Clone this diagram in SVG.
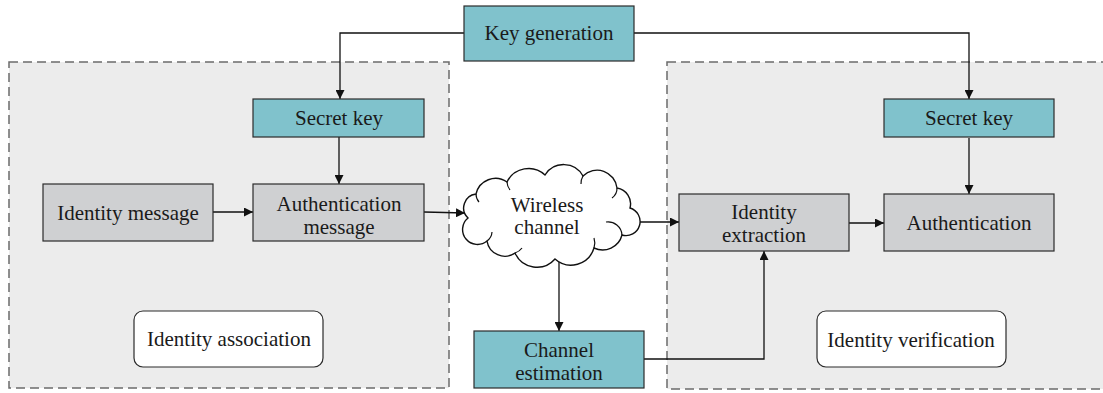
<svg xmlns="http://www.w3.org/2000/svg" width="1103" height="393" viewBox="0 0 1103 393">
  <style>
    .zone { fill: #ececec; stroke: #6b6b6b; stroke-width: 1.5; stroke-dasharray: 9 5; }
    .teal { fill: #80c2cc; stroke: #2b2b2b; stroke-width: 1.2; }
    .gray { fill: #cfd0d2; stroke: #2b2b2b; stroke-width: 1.2; }
    .label { fill: #ffffff; stroke: #2b2b2b; stroke-width: 1.2; }
    .cloud { fill: #ffffff; stroke: #111111; stroke-width: 1.4; }
    .cloud-inner { fill: none; stroke: #111111; stroke-width: 1.2; }
    text { font-family: "Liberation Serif", "Times New Roman", serif; font-size: 21px; fill: #1a1a1a; text-anchor: middle; }
    .wire { fill: none; stroke: #111111; stroke-width: 1.3; }
  </style>
  <defs>
    <marker id="arrow" viewBox="0 0 10 10" refX="10" refY="5" markerWidth="9" markerHeight="9" markerUnits="userSpaceOnUse" orient="auto">
      <path d="M0,0 L10,5 L0,10 z" fill="#111111"/>
    </marker>
  </defs>

  <!-- dashed zones -->
  <g id="zone-association">
    <rect class="zone" x="9" y="62" width="440" height="326"/>
  </g>
  <g id="zone-verification">
    <rect class="zone" x="667" y="62" width="445" height="327"/>
  </g>

  <!-- connectors -->
  <g id="connectors">
    <polyline class="wire" points="464,33 340,33 340,99" marker-end="url(#arrow)"/>
    <polyline class="wire" points="634,33 969,33 969,99" marker-end="url(#arrow)"/>
    <line class="wire" x1="339" y1="137" x2="339" y2="184" marker-end="url(#arrow)"/>
    <line class="wire" x1="213" y1="212" x2="253" y2="212" marker-end="url(#arrow)"/>
    <line class="wire" x1="424" y1="212" x2="465" y2="213" marker-end="url(#arrow)"/>
    <line class="wire" x1="633" y1="222" x2="679" y2="222" marker-end="url(#arrow)"/>
    <line class="wire" x1="559" y1="258" x2="559" y2="331" marker-end="url(#arrow)"/>
    <polyline class="wire" points="644,359 764,359 764,251" marker-end="url(#arrow)"/>
    <line class="wire" x1="849" y1="223" x2="884" y2="223" marker-end="url(#arrow)"/>
    <line class="wire" x1="969" y1="138" x2="969" y2="194" marker-end="url(#arrow)"/>
  </g>

  <!-- nodes -->
  <g id="key-generation">
    <rect class="teal" x="464" y="6" width="170" height="55"/>
    <text x="549" y="40">Key generation</text>
  </g>
  <g id="secret-key-left">
    <rect class="teal" x="253" y="99" width="171" height="38"/>
    <text x="339" y="125">Secret key</text>
  </g>
  <g id="identity-message">
    <rect class="gray" x="43" y="184" width="170" height="57"/>
    <text x="128" y="220">Identity message</text>
  </g>
  <g id="authentication-message">
    <rect class="gray" x="253" y="184" width="171" height="57"/>
    <text x="339" y="211">Authentication</text>
    <text x="339" y="234">message</text>
  </g>
  <g id="identity-association">
    <rect class="label" x="134" y="311" width="189" height="56" rx="9"/>
    <text x="229" y="346">Identity association</text>
  </g>
  <g id="wireless-channel">
    <path class="cloud" d="M468,218
      A14,14 0 0 1 476,194
      A20,20 0 0 1 507,182
      A24,24 0 0 1 545,175
      A22,22 0 0 1 583,176
      A20,20 0 0 1 617,188
      A16,16 0 0 1 630,208
      A14,14 0 0 1 622,235
      A20,20 0 0 1 594,248
      A24,24 0 0 1 555,259
      A24,24 0 0 1 515,253
      A18,18 0 0 1 487,241
      A14,14 0 0 1 468,218 z"/>
    <path class="cloud-inner" d="M476,194 A12,12 0 0 0 479,202"/>
    <path class="cloud-inner" d="M507,182 A14,14 0 0 0 510,190"/>
    <path class="cloud-inner" d="M583,176 A14,14 0 0 0 581,184"/>
    <path class="cloud-inner" d="M617,188 A12,12 0 0 1 612,198"/>
    <path class="cloud-inner" d="M622,235 A14,14 0 0 0 606,222"/>
    <path class="cloud-inner" d="M594,248 A16,16 0 0 0 594,238"/>
    <path class="cloud-inner" d="M515,253 A14,14 0 0 0 522,248"/>
    <path class="cloud-inner" d="M487,241 A12,12 0 0 0 492,232"/>
    <text x="547" y="212">Wireless</text>
    <text x="547" y="234">channel</text>
  </g>
  <g id="channel-estimation">
    <rect class="teal" x="474" y="331" width="170" height="57"/>
    <text x="559" y="357">Channel</text>
    <text x="559" y="380">estimation</text>
  </g>
  <g id="secret-key-right">
    <rect class="teal" x="884" y="99" width="170" height="38"/>
    <text x="969" y="125">Secret key</text>
  </g>
  <g id="identity-extraction">
    <rect class="gray" x="679" y="194" width="170" height="57"/>
    <text x="764" y="219">Identity</text>
    <text x="764" y="242">extraction</text>
  </g>
  <g id="authentication">
    <rect class="gray" x="884" y="194" width="170" height="57"/>
    <text x="969" y="230">Authentication</text>
  </g>
  <g id="identity-verification">
    <rect class="label" x="817" y="311" width="189" height="56" rx="9"/>
    <text x="911" y="347">Identity verification</text>
  </g>
</svg>
